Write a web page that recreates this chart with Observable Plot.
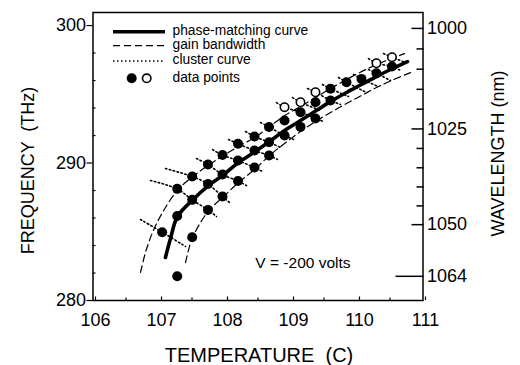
<!DOCTYPE html>
<html>
<head>
<meta charset="utf-8">
<script src="https://cdn.jsdelivr.net/npm/d3@7"></script>
<script src="https://cdn.jsdelivr.net/npm/@observablehq/plot@0.6"></script>
<style>
  body { margin: 0; background: #fff; }
  #chart svg { font-family: "Liberation Sans", Arial, Helvetica, sans-serif; }
</style>
</head>
<body>
<div id="chart"></div>
<script>
// Axis ticks
const tempTicks = [106, 107, 108, 109, 110, 111];
const tempMinor = [106.5, 107.5, 108.5, 109.5, 110.5];
const freqTicks = [280, 290, 300];
const freqMinor = [282, 284, 286, 288, 292, 294, 296, 298];
const wlTicks = [1000, 1025, 1050];
const wlMinor = [1005, 1010, 1015, 1020, 1030, 1035, 1040, 1045];
const wlPump = [1064];
const C_NM_THZ = 299792.458; // speed of light in nm·THz

// Phase-matching curve
const pmT = [107.098, 107.174, 107.280, 107.508, 107.750, 107.962, 108.205, 108.447, 108.674, 108.902, 109.144, 109.371, 109.598, 109.841, 110.068, 110.295, 110.523, 110.765];
const pmF = [283.13, 284.51, 286.11, 287.31, 288.36, 289.09, 290.04, 290.80, 291.56, 292.36, 293.09, 293.78, 294.47, 295.13, 295.71, 296.29, 296.84, 297.38];

// Gain bandwidth, high-frequency edge
const gbHiT = [106.720, 106.795, 106.902, 107.053, 107.276, 107.503, 107.742, 107.962, 108.205, 108.447, 108.674, 108.902, 109.144, 109.371, 109.598, 109.841, 110.068, 110.295, 110.523, 110.720];
const gbHiF = [282.04, 283.49, 284.95, 286.40, 288.00, 288.98, 289.82, 290.51, 291.20, 291.85, 292.65, 293.45, 294.11, 294.76, 295.42, 296.07, 296.65, 297.16, 297.60, 297.96];

// Gain bandwidth, low-frequency edge
const gbLoT = [107.402, 107.503, 107.742, 107.962, 108.205, 108.447, 108.674, 108.902, 109.144, 109.371, 109.598, 109.841, 110.068, 110.295, 110.523, 110.811];
const gbLoF = [282.76, 284.51, 286.47, 287.49, 288.58, 289.53, 290.55, 291.42, 292.29, 293.02, 293.67, 294.33, 294.91, 295.49, 296.00, 296.58];

// Cluster curves (one id per curve)
const clId = [0,0,0, 1,1,1,1,1, 2,2,2,2,2, 3,3,3,3,3, 4,4,4,4,4, 5,5,5,5,5, 6,6,6,6, 7,7,7,7, 8,8,8,8,8,
              9,9,9, 10,10,10,10, 11,11,11, 12,12,12, 13,13,13, 14,14,14,14, 15,15,15, 16,16,16];
const clT = [106.720, 107.048, 107.402,
             106.871, 107.276, 107.503, 107.742, 107.871,
             107.098, 107.503, 107.742, 107.962, 108.083,
             107.568, 107.742, 107.962, 108.197, 108.326,
             107.811, 107.962, 108.197, 108.447, 108.568,
             108.053, 108.197, 108.447, 108.667, 108.795,
             108.311, 108.447, 108.667, 108.841,
             108.538, 108.667, 108.902, 109.038,
             108.780, 108.902, 109.144, 109.371, 109.492,
             109.023, 109.144, 109.447,
             109.250, 109.371, 109.598, 109.750,
             109.477, 109.598, 109.871,
             109.720, 109.841, 110.114,
             109.947, 110.068, 110.326,
             110.174, 110.295, 110.530, 110.659,
             110.402, 110.530, 110.735,
             110.174, 110.295, 110.508];
const clF = [285.89, 284.97, 283.93,
             288.73, 288.12, 287.32, 286.58, 286.11,
             289.60, 289.02, 288.47, 287.56, 287.06,
             290.33, 289.89, 289.16, 288.69, 288.36,
             290.98, 290.58, 290.18, 289.67, 289.38,
             291.71, 291.40, 290.91, 290.55, 290.26,
             292.29, 291.93, 291.51, 291.13,
             292.95, 292.62, 292.00, 291.71,
             294.40, 294.06, 293.70, 293.24, 293.02,
             294.76, 294.42, 293.82,
             295.42, 295.15, 294.55, 294.26,
             295.71, 295.40, 294.84,
             296.22, 295.88, 295.20,
             296.44, 296.12, 295.56,
             297.60, 297.26, 297.02, 296.73,
             297.96, 297.70, 297.31,
             296.80, 296.53, 296.00];

// Measured oscillation frequencies (open = hollow marker)
const dotT = [107.048,
              107.276, 107.276, 107.276,
              107.503, 107.503, 107.503,
              107.742, 107.742, 107.742,
              107.962, 107.962, 107.962,
              108.197, 108.197, 108.197,
              108.447, 108.447, 108.447,
              108.667, 108.667, 108.667,
              108.902, 108.902, 108.902,
              109.144, 109.144, 109.144,
              109.371, 109.371, 109.371,
              109.598, 109.598,
              109.841, 110.068,
              110.295, 110.295,
              110.530, 110.530];
const dotF = [284.97,
              288.12, 286.15, 281.77,
              289.02, 287.32, 284.60,
              289.89, 288.47, 286.58,
              290.58, 289.16, 287.56,
              291.40, 290.18, 288.69,
              291.93, 290.91, 289.67,
              292.62, 291.51, 290.55,
              294.06, 293.09, 292.00,
              294.42, 293.69, 292.63,
              295.15, 294.42, 293.24,
              295.40, 294.55,
              295.88, 296.12,
              297.26, 296.53,
              297.70, 297.02];
const dotOpen = [0,
                 0, 0, 0,
                 0, 0, 0,
                 0, 0, 0,
                 0, 0, 0,
                 0, 0, 0,
                 0, 0, 0,
                 0, 0, 0,
                 1, 0, 0,
                 1, 0, 0,
                 1, 0, 0,
                 0, 0,
                 0, 0,
                 1, 0,
                 1, 0];

const pm = pmT.map((t, i) => ({t, f: pmF[i]}));
const gbHi = gbHiT.map((t, i) => ({t, f: gbHiF[i]}));
const gbLo = gbLoT.map((t, i) => ({t, f: gbLoF[i]}));
const clusters = clT.map((t, i) => ({t, f: clF[i], id: clId[i]}));
const dots = dotT.map((t, i) => ({t, f: dotF[i], open: dotOpen[i] === 1}));

const toFreq = (nm) => C_NM_THZ / nm;
const wlLabel = (f) => String(Math.round(C_NM_THZ / f));

const plot = Plot.plot({
  width: 520,
  height: 365,
  marginLeft: 92.5,
  marginRight: 97.5,
  marginTop: 12,
  marginBottom: 65,
  style: {fontFamily: "'Liberation Sans', Arial, Helvetica, sans-serif", fontSize: "18px", color: "#000", background: "#fff"},
  x: {domain: [106, 111]},
  y: {domain: [280, 300.95]},
  marks: [
    Plot.frame({stroke: "#000", strokeWidth: 1.5}),
    // temperature axis
    Plot.axisX({ticks: tempTicks, tickSize: -3.5, tickPadding: 16, dx: 2.5, tickFormat: d3.format("d"), fontSize: 18, label: null, strokeWidth: 1.2}),
    Plot.axisX({ticks: tempMinor, tickSize: -2.5, tickFormat: () => "", label: null, strokeWidth: 1.2}),
    // frequency axis
    Plot.axisY({ticks: freqTicks, tickSize: 6, tickPadding: 1, tickFormat: d3.format("d"), fontSize: 18, label: null, strokeWidth: 1.2}),
    Plot.axisY({ticks: freqMinor, tickSize: -3, tickFormat: () => "", label: null, strokeWidth: 1.2}),
    // wavelength axis (ticks placed at c/λ)
    Plot.axisY({anchor: "right", ticks: wlTicks.map(toFreq), tickSize: -12, tickPadding: 16, tickFormat: wlLabel, fontSize: 18, label: null, strokeWidth: 1.5}),
    Plot.axisY({anchor: "right", ticks: wlMinor.map(toFreq), tickSize: -7, tickFormat: () => "", label: null, strokeWidth: 1.5}),
    Plot.axisY({anchor: "right", ticks: wlPump.map(toFreq), tickSize: -28, tickPadding: 32, tickFormat: wlLabel, fontSize: 18, label: null, strokeWidth: 1.5}),
    // cluster curves
    Plot.line(clusters, {x: "t", y: "f", z: "id", stroke: "#000", strokeWidth: 1.6, strokeDasharray: "1.5,2.5", curve: "catmull-rom"}),
    // gain bandwidth
    Plot.line(gbHi, {x: "t", y: "f", stroke: "#000", strokeWidth: 1.2, strokeDasharray: "7,4", curve: "catmull-rom"}),
    Plot.line(gbLo, {x: "t", y: "f", stroke: "#000", strokeWidth: 1.2, strokeDasharray: "7,4", curve: "catmull-rom"}),
    // phase matching
    Plot.line(pm, {x: "t", y: "f", stroke: "#000", strokeWidth: 3.6, curve: "catmull-rom"}),
    // data points
    Plot.dot(dots.filter(d => !d.open), {x: "t", y: "f", r: 5, fill: "#000", stroke: "none"}),
    Plot.dot(dots.filter(d => d.open), {x: "t", y: "f", r: 4.2, fill: "#fff", stroke: "#000", strokeWidth: 1.6}),
    // annotation
    Plot.text(["V = -200 volts"], {x: 108.46, y: 282.76, textAnchor: "start", fontSize: 15.5}),
    // axis titles
    Plot.text(["FREQUENCY  (THz)"], {frameAnchor: "left", textAnchor: "middle", lineAnchor: "middle", dx: -65, dy: 14, rotate: -90, fontSize: 18}),
    Plot.text(["WAVELENGTH (nm)"], {frameAnchor: "right", textAnchor: "middle", lineAnchor: "middle", dx: 75, dy: -3, rotate: -90, fontSize: 18}),
    Plot.text(["TEMPERATURE  (C)"], {frameAnchor: "bottom", textAnchor: "middle", lineAnchor: "middle", dx: 1, dy: 55, fontSize: 20})
  ]
});

// legend in the top-left corner of the frame
const svg = d3.select(plot);
const lg = svg.append("g").attr("transform", "translate(92.5,12)").attr("text-anchor", "start");
const rows = [
  {label: "phase-matching curve", kind: "solid"},
  {label: "gain bandwidth", kind: "dashed"},
  {label: "cluster curve", kind: "dotted"},
  {label: "data points", kind: "dots"}
];
const rowY = [19.7, 33.7, 49, 66.3];
rows.forEach((r, i) => {
  const y = rowY[i];
  if (r.kind === "dots") {
    lg.append("circle").attr("cx", 39.2).attr("cy", y).attr("r", 5).attr("fill", "#000");
    lg.append("circle").attr("cx", 54.2).attr("cy", y).attr("r", 4.2).attr("fill", "#fff").attr("stroke", "#000").attr("stroke-width", 1.6);
  } else {
    const ln = lg.append("line").attr("x1", 20.5).attr("x2", 72.5).attr("y1", y).attr("y2", y).attr("stroke", "#000");
    if (r.kind === "solid") ln.attr("stroke-width", 3.5);
    if (r.kind === "dashed") ln.attr("stroke-width", 1.3).attr("stroke-dasharray", "7,4");
    if (r.kind === "dotted") ln.attr("stroke-width", 1.6).attr("stroke-dasharray", "1.5,2.5");
  }
  lg.append("text").attr("x", 80).attr("y", y - 1.5).attr("dy", "0.35em").attr("text-anchor", "start")
    .attr("font-size", 13.8).attr("fill", "#000").text(r.label);
});

document.getElementById("chart").appendChild(plot);
</script>
</body>
</html>
